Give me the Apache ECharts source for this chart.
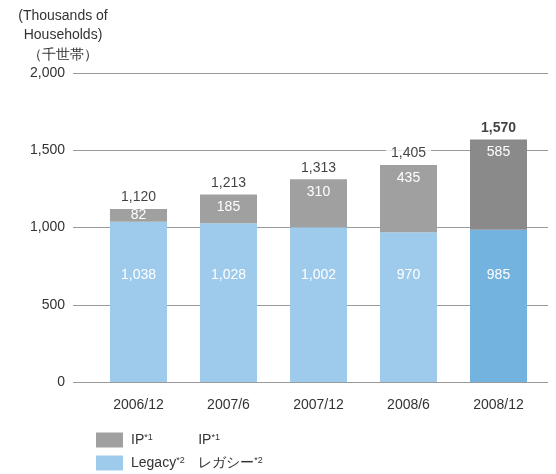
<!DOCTYPE html>
<html><head><meta charset="utf-8">
<script src="https://cdn.jsdelivr.net/npm/echarts@6/dist/echarts.min.js"></script>
<style>html,body{margin:0;padding:0;background:#fff}#c{width:556px;height:474px}</style>
</head><body><div id="c"></div>
<script>
var categories = ['2006/12', '2007/6', '2007/12', '2008/6', '2008/12'];
var legacyValues = [1038, 1028, 1002, 970, 985];
var ipValues = [82, 185, 310, 435, 585];
var totalValues = [1120, 1213, 1313, 1405, 1570];
var yTicks = [0, 500, 1000, 1500, 2000];

var FONT = '"Liberation Sans", Arial, Helvetica, sans-serif';
var grayC = '#a0a0a0', grayD = '#8a8a8a', blueC = '#9ecbec', blueD = '#72b3e0';

var chart = echarts.init(document.getElementById('c'));
chart.setOption({
  animation: false,
  textStyle: {fontFamily: FONT},
  grid: [
    {left: 93.5, width: 450, top: 73, height: 309},
    {left: 73, width: 475, top: 73, height: 309}
  ],
  xAxis: [
    {type: 'category', gridIndex: 0, data: categories,
     axisLine: {show: false}, axisTick: {show: false},
     axisLabel: {color: '#333', fontSize: 14, margin: 16, fontFamily: FONT}},
    {type: 'value', gridIndex: 1, show: false}
  ],
  yAxis: [
    {type: 'value', gridIndex: 0, min: 0, max: 2000, interval: 500, show: false},
    {type: 'value', gridIndex: 1, min: yTicks[0], max: yTicks[yTicks.length - 1], interval: 500,
     axisLine: {show: false}, axisTick: {show: false},
     splitLine: {show: true, lineStyle: {color: '#9a9a9a', width: 1}},
     axisLabel: {color: '#333', fontSize: 14, margin: 8, fontFamily: FONT,
       formatter: function (v) { return v.toLocaleString('en-US'); }}}
  ],
  legend: {
    left: 96, top: 432, orient: 'vertical', itemWidth: 27, itemHeight: 15, itemGap: 7,
    padding: 0, height: 60,
    icon: 'rect', selectedMode: false,
    data: ['IP', 'Legacy'],
    textStyle: {
      color: '#333', fontSize: 14, fontFamily: FONT, lineHeight: 16,
      rich: {
        p: {width: 3, lineHeight: 16},
        n: {fontSize: 14, color: '#333', fontFamily: FONT, lineHeight: 16},
        s: {fontSize: 9, color: '#333', padding: [0, 0, 5, 0], fontFamily: FONT, lineHeight: 16},
        s1: {fontSize: 9, color: '#333', width: 54, align: 'left', padding: [0, 0, 5, 0], fontFamily: FONT, lineHeight: 16},
        s2: {fontSize: 9, color: '#333', width: 22, align: 'left', padding: [0, 0, 5, 0], fontFamily: FONT, lineHeight: 16}
      }
    },
    formatter: function (name) {
      if (name === 'IP') return '{p|}{n|IP}{s1|*1}{n|IP}{s|*1}';
      return '{p|}{n|Legacy}{s2|*2}{n|レガシー}{s|*2}';
    }
  },
  graphic: [
    {type: 'text', x: 63, y: 6, style: {text: '(Thousands of\nHouseholds)\n（千世帯）', fill: '#333',
      font: '14px ' + FONT, textAlign: 'center', lineHeight: 19.5}}
  ],
  series: [
    {name: 'Legacy', type: 'bar', stack: 't', xAxisIndex: 0, yAxisIndex: 0, barWidth: 57,
     itemStyle: {color: blueC},
     data: legacyValues.map(function (v, i) {
       return {value: v, itemStyle: {color: i === legacyValues.length - 1 ? blueD : blueC}};
     }),
     label: {show: true, position: 'insideBottom', distance: 100, color: '#fff', fontSize: 14, fontFamily: FONT,
       formatter: function (p) { return p.value.toLocaleString('en-US'); }}},
    {name: 'IP', type: 'bar', stack: 't', xAxisIndex: 0, yAxisIndex: 0, barWidth: 57,
     itemStyle: {color: grayC},
     data: ipValues.map(function (v, i) {
       var d = {value: v, itemStyle: {color: i === ipValues.length - 1 ? grayD : grayC}};
       if (v < 120) d.label = {position: 'inside'};
       return d;
     }),
     label: {show: true, position: 'insideTop', distance: 6, color: '#fff', fontSize: 14, fontFamily: FONT}},
    {name: 'Total', type: 'scatter', xAxisIndex: 0, yAxisIndex: 0, symbolSize: 1,
     itemStyle: {color: 'rgba(0,0,0,0)'},
     data: totalValues.map(function (v, i) {
       var d = {value: v};
       if (i === totalValues.length - 1) d.label = {fontWeight: 'bold'};
       return d;
     }),
     label: {show: true, position: 'top', distance: 3, color: '#111', fontSize: 14, fontFamily: FONT,
       backgroundColor: '#fff', padding: [1, 5, 1, 5],
       formatter: function (p) { return p.value.toLocaleString('en-US'); }}}
  ]
});
</script></body></html>
